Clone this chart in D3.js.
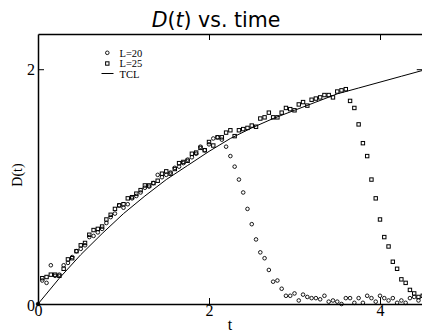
<!DOCTYPE html>
<html><head><meta charset="utf-8">
<script src="https://cdn.jsdelivr.net/npm/d3@7"></script>
<style>body{margin:0;background:#fff}svg{display:block}</style>
</head><body>
<script>
const title = ["D(t)", " vs. time"];
const xTicks = [0, 2, 4];
const yTicks = [0, 2];
const legendLabels = ["L=20", "L=25", "TCL"];

const tclT = [0,0.25,0.5,0.75,1,1.25,1.5,1.75,2,2.25,2.5,2.75,3,3.25,3.5,3.75,4,4.25,4.5];
const tclD = [0,0.22,0.42,0.60,0.77,0.92,1.06,1.18,1.30,1.41,1.50,1.58,1.65,1.72,1.79,1.84,1.89,1.94,1.99];

const l20T = [0,0.05,0.10,0.15,0.20,0.25,0.30,0.35,0.40,0.45,0.50,0.55,0.60,0.65,0.70,0.75,0.80,0.85,0.90,0.95,1.00,1.05,1.10,1.15,1.20,1.25,1.30,1.35,1.40,1.45,1.50,1.55,1.60,1.65,1.70,1.75,1.80,1.85,1.90,1.95,2.00,2.05,2.10,2.15,2.20,2.25,2.30,2.35,2.40,2.45,2.50,2.55,2.60,2.65,2.70,2.75,2.80,2.85,2.90,2.95,3.00,3.05,3.10,3.15,3.20,3.25,3.30,3.35,3.40,3.45,3.50,3.55,3.60,3.65,3.70,3.75,3.80,3.85,3.90,3.95,4.00,4.05,4.10,4.15,4.20,4.25,4.30,4.35,4.40,4.45];
const l20D = [0,0.20,0.18,0.33,0.24,0.25,0.33,0.35,0.40,0.45,0.47,0.50,0.57,0.58,0.61,0.64,0.69,0.74,0.77,0.84,0.82,0.85,0.90,0.92,0.95,0.99,1.00,1.03,1.10,1.08,1.10,1.12,1.16,1.17,1.20,1.23,1.25,1.28,1.34,1.31,1.36,1.41,1.42,1.40,1.34,1.26,1.17,1.06,0.95,0.81,0.68,0.55,0.44,0.39,0.29,0.19,0.20,0.13,0.07,0.07,0.09,0.03,0.08,0.06,0.05,0.05,0.04,0.07,0.02,0.03,0.02,0.00,0.05,0.05,0.01,0.05,0.01,0.07,0.05,0.02,0.07,0.05,0.03,0.05,0.01,0.03,0.01,0.05,0.06,0.03];

const l25T = [0.05,0.10,0.15,0.20,0.25,0.30,0.35,0.40,0.45,0.50,0.55,0.60,0.65,0.70,0.75,0.80,0.85,0.90,0.95,1.00,1.05,1.10,1.15,1.20,1.25,1.30,1.35,1.40,1.45,1.50,1.55,1.60,1.65,1.70,1.75,1.80,1.85,1.90,1.95,2.00,2.05,2.10,2.15,2.20,2.25,2.30,2.35,2.40,2.45,2.50,2.55,2.60,2.65,2.70,2.75,2.80,2.85,2.90,2.95,3.00,3.05,3.10,3.15,3.20,3.25,3.30,3.35,3.40,3.45,3.50,3.55,3.60,3.65,3.70,3.75,3.80,3.85,3.90,3.95,4.00,4.05,4.10,4.15,4.20,4.25,4.30,4.35,4.40,4.45,4.50];
const l25D = [0.22,0.23,0.25,0.25,0.24,0.30,0.38,0.39,0.45,0.50,0.52,0.59,0.63,0.64,0.66,0.72,0.76,0.81,0.84,0.85,0.90,0.91,0.94,0.97,1.01,1.01,1.03,1.05,1.11,1.13,1.11,1.15,1.20,1.21,1.22,1.28,1.29,1.33,1.31,1.38,1.35,1.42,1.42,1.46,1.48,1.43,1.48,1.49,1.50,1.52,1.51,1.58,1.59,1.63,1.59,1.59,1.63,1.67,1.66,1.65,1.70,1.72,1.69,1.74,1.75,1.76,1.78,1.78,1.76,1.81,1.82,1.83,1.73,1.67,1.53,1.37,1.26,1.06,0.90,0.72,0.57,0.49,0.36,0.30,0.21,0.18,0.12,0.09,0.06,0.07];

const W = 422, H = 332;
const mg = {left: 38, top: 34, right: 422.75, bottom: 304};
const x = d3.scaleLinear().domain([0, 4.5]).range([mg.left, mg.right]);
const y = d3.scaleLinear().domain([0, 2.3]).range([mg.bottom, mg.top]);

const svg = d3.select("body").append("svg").attr("width", W).attr("height", H);
const serif = "Liberation Serif, Times New Roman, serif";

// title
const tt = svg.append("text").attr("x", 216).attr("y", 27).attr("text-anchor", "middle")
  .attr("font-family", "DejaVu Sans, sans-serif").attr("font-size", 20.5).attr("fill", "#000");
tt.append("tspan").attr("font-style", "italic").text("D");
tt.append("tspan").text("(");
tt.append("tspan").attr("font-style", "italic").text("t");
tt.append("tspan").text(")" + title[1]);

const plot = svg.append("g");

// TCL line
const line = d3.line().x((d, i) => x(tclT[i])).y(d => y(d));
plot.append("path").datum(tclD).attr("d", line).attr("fill", "none").attr("stroke", "#000").attr("stroke-width", 1);

// L=20 circles
plot.selectAll("circle.l20").data(l20D).join("circle").attr("class", "l20")
  .attr("cx", (d, i) => x(l20T[i])).attr("cy", d => y(d)).attr("r", 1.8)
  .attr("fill", "none").attr("stroke", "#000").attr("stroke-width", 0.9);

// L=25 squares
plot.selectAll("rect.l25").data(l25D).join("rect").attr("class", "l25")
  .attr("x", (d, i) => x(l25T[i]) - 1.7).attr("y", d => y(d) - 1.7)
  .attr("width", 3.4).attr("height", 3.4)
  .attr("fill", "none").attr("stroke", "#000").attr("stroke-width", 1);

// origin dot
plot.append("circle").attr("cx", x(0)).attr("cy", y(0)).attr("r", 1.6).attr("fill", "#000");

// frame axes
const axW = 1.5;
const gBottom = svg.append("g").attr("transform", `translate(0,${mg.bottom})`)
  .call(d3.axisBottom(x).tickValues(xTicks).tickSizeInner(-6).tickSizeOuter(0).tickPadding(1).tickFormat(d3.format("d")));
const gTop = svg.append("g").attr("transform", `translate(0,${mg.top})`)
  .call(d3.axisTop(x).tickValues(xTicks.slice(1)).tickSizeInner(-6).tickSizeOuter(0).tickFormat(""));
const gLeft = svg.append("g").attr("transform", `translate(${mg.left},0)`)
  .call(d3.axisLeft(y).tickValues(yTicks).tickSizeInner(-6).tickSizeOuter(0).tickPadding(3).tickFormat(d3.format("d")));
const gRight = svg.append("g").attr("transform", `translate(${mg.right},0)`)
  .call(d3.axisRight(y).tickValues(yTicks.slice(1)).tickSizeInner(-6).tickSizeOuter(0).tickFormat(""));

[gBottom, gTop, gLeft, gRight].forEach(g => {
  g.attr("font-family", serif).attr("font-size", 16);
  g.selectAll("path.domain").attr("stroke", "#000").attr("stroke-width", axW);
  g.selectAll(".tick line").attr("stroke", "#000").attr("stroke-width", 1);
  g.selectAll(".tick text").style("font-family", serif).style("font-size", "16px").attr("fill", "#000");
});
gBottom.selectAll(".tick").filter(d => d === 0).select("line").remove();
gLeft.selectAll(".tick").filter(d => d === 0).select("line").remove();
gLeft.selectAll(".tick text").attr("dy", "0.33em");
gLeft.selectAll(".tick").filter(d => d === 0).select("text").attr("dy", "0.38em");

// axis labels
svg.append("text").attr("x", 230).attr("y", 330).attr("text-anchor", "middle")
  .attr("font-family", serif).attr("font-size", 16).text("t");
svg.append("text").attr("transform", "translate(22,175) rotate(-90)").attr("text-anchor", "middle")
  .attr("font-family", serif).attr("font-size", 14).text("D(t)");

// legend
const lg = svg.append("g").attr("font-family", serif).attr("font-size", 10.5);
lg.append("circle").attr("cx", 107.3).attr("cy", 52.8).attr("r", 1.8).attr("fill", "none").attr("stroke", "#000").attr("stroke-width", 0.9);
lg.append("rect").attr("x", 105.6).attr("y", 61.8).attr("width", 3.4).attr("height", 3.4).attr("fill", "none").attr("stroke", "#000").attr("stroke-width", 1);
lg.append("line").attr("x1", 101.5).attr("x2", 113.5).attr("y1", 73.5).attr("y2", 73.5).attr("stroke", "#000").attr("stroke-width", 1);
legendLabels.forEach((s, i) => {
  lg.append("text").attr("x", 119.5).attr("y", 56.5 + i * 10.8).text(s);
});
</script>
</body></html>
